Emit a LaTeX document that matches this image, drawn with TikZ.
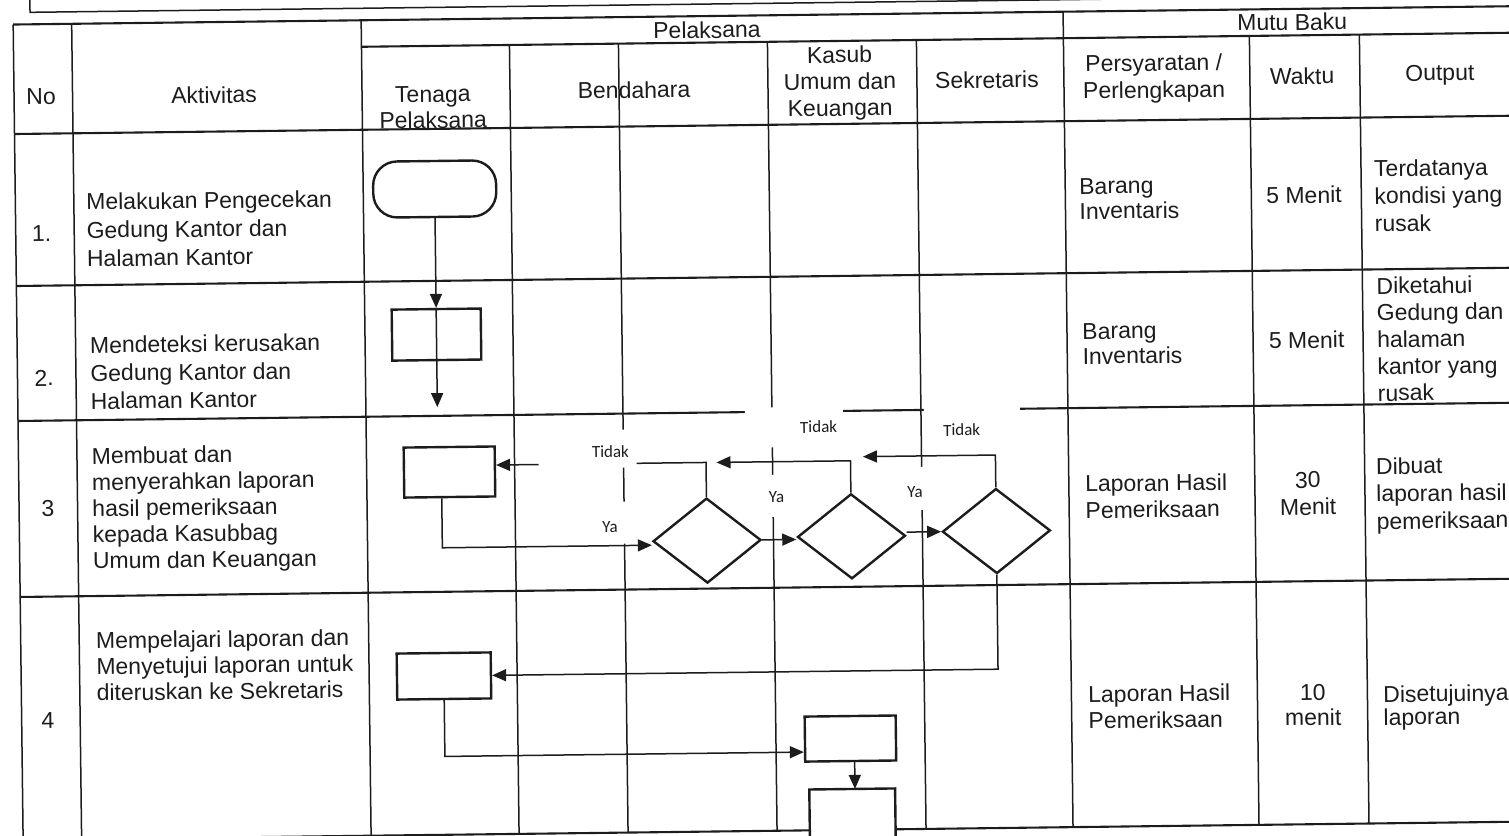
\documentclass[tikz,border=0pt]{standalone}
\usepackage{fontspec}
\setmainfont{Liberation Sans}
\newfontfamily\lblfont{Carlito}
\usetikzlibrary{arrows.meta,shapes.geometric}
\definecolor{ink}{RGB}{28,28,28}
\begin{document}
\begin{tikzpicture}[x=0.5pt, y=-0.5pt,
  hline/.style={draw=ink, line width=1.05pt},
  vline/.style={draw=ink, line width=0.75pt},
  shp/.style={draw=ink, line width=1.2pt, fill=white, inner sep=0pt},
  conn/.style={draw=ink, line width=0.75pt, -{Triangle[length=7pt,width=6pt]}},
  mask/.style={fill=white},
  txt/.style={font=\fontsize{11.5pt}{13.5pt}\selectfont, text=ink, inner sep=0pt},
  lt/.style={txt, align=left, anchor=west},
  ct/.style={txt, align=center},
  lbl/.style={font=\lblfont\fontsize{8.5pt}{10pt}\selectfont, text=ink, inner sep=0pt}]
\useasboundingbox (0,0) rectangle (1509,835);
\clip (0,0) rectangle (1509,835);
\begin{scope}[rotate around={0.7:(754,417)}, transform shape]
% top box edge
\draw[vline] (35,-30) -- (35,3.5) -- (1560,3.5);
% table horizontal lines
\draw[hline] (18,15.5) -- (1560,15.5);
\draw[hline] (366,42) -- (1560,42);
\foreach \yy in {125,277,412,588,831} \draw[hline] (18,\yy) -- (1560,\yy);
% table vertical lines
\foreach \xx in {18,76.5,366,1068} \draw[vline] (\xx,15.5) -- (\xx,831);
\foreach \xx in {514,623,772,921,1254,1364} \draw[vline] (\xx,42) -- (\xx,831);

% header texts
\node[ct] (hno) at (45,88.3) {No};
\node[ct] (hakt) at (218,88.4) {Aktivitas};
\node[ct] (hpel) at (711.7,29.4) {Pelaksana};
\node[ct, font=\fontsize{11.5pt}{13pt}\selectfont] (hten) at (436.8,103.5) {Tenaga\\Pelaksana};
\node[ct] (hben) at (638,88.5) {Bendahara};
\node[ct, font=\fontsize{11.5pt}{13.25pt}\selectfont] (hkas) at (844,84.5) {Kasub\\Umum dan\\Keuangan};
\node[ct] (hsek) at (991,82.8) {Sekretaris};
\node[ct] (hmut) at (1297,28.6) {Mutu Baku};
\node[ct] (hper) at (1158,83.4) {Persyaratan /\\Perlengkapan};
\node[ct] (hwak) at (1306.2,82.7) {Waktu};
\node[ct] (hout) at (1444,83.4) {Output};

% row 1
\node[ct] (n1) at (43.9,224.8) {1.};
\node[lt, font=\fontsize{11.5pt}{14.2pt}\selectfont] (a1) at (88.6,222) {Melakukan Pengecekan\\Gedung Kantor dan\\Halaman Kantor};
\node[lt, font=\fontsize{11.5pt}{12.5pt}\selectfont] (p1) at (1081.7,203) {Barang\\Inventaris};
\node[ct] (w1) at (1306.7,201.7) {5 Menit};
\node[lt, font=\fontsize{11.5pt}{13.75pt}\selectfont] (o1) at (1376.7,203.5) {Terdatanya\\kondisi yang\\rusak};
% row 2
\node[ct] (n2) at (44.5,369.3) {2.};
\node[lt, font=\fontsize{11.5pt}{14pt}\selectfont] (a2) at (90.6,365) {Mendeteksi kerusakan\\Gedung Kantor dan\\Halaman Kantor};
\node[lt, font=\fontsize{11.5pt}{12.5pt}\selectfont] (p2) at (1083,348) {Barang\\Inventaris};
\node[ct] (w2) at (1307.6,346.7) {5 Menit};
\node[lt, font=\fontsize{11.5pt}{13.4pt}\selectfont] (o2) at (1377.7,347) {Diketahui\\Gedung dan\\halaman\\kantor yang\\rusak};
% row 3
\node[ct] (n3) at (46.9,499.4) {3};
\node[lt, font=\fontsize{11.5pt}{13.1pt}\selectfont] (a3) at (90.9,502.5) {Membuat dan\\menyerahkan laporan\\hasil pemeriksaan\\kepada Kasubbag\\Umum dan Keuangan};
\node[lt, font=\fontsize{11.5pt}{13.25pt}\selectfont] (p3) at (1084,501) {Laporan Hasil\\Pemeriksaan};
\node[ct] (w3) at (1307,500.3) {30\\Menit};
\node[lt, font=\fontsize{11.5pt}{13.75pt}\selectfont] (o3) at (1375,503.5) {Dibuat\\laporan hasil\\pemeriksaan};
% row 4
\node[ct] (n4) at (44.3,711.4) {4};
\node[lt, font=\fontsize{11.5pt}{13pt}\selectfont] (a4) at (93,658.5) {Mempelajari laporan dan\\Menyetujui laporan untuk\\diteruskan ke Sekretaris};
\node[lt, font=\fontsize{11.5pt}{13.25pt}\selectfont] (p4) at (1084.5,711.5) {Laporan Hasil\\Pemeriksaan};
\node[ct, font=\fontsize{11.5pt}{12.5pt}\selectfont] (w4) at (1309.5,711.7) {10\\menit};
\node[lt, font=\fontsize{11.5pt}{11.5pt}\selectfont] (o4) at (1379.5,715.5) {Disetujuinya\\laporan};

% flowchart shapes
\node[shp, rounded corners=12pt, minimum width=61.5pt, minimum height=28pt] (term) at (437.5,185.1) {};
\node[shp, minimum width=44.5pt, minimum height=25.5pt] (r1) at (437.5,330.7) {};
\node[shp, minimum width=45.5pt, minimum height=25pt] (r2) at (448.8,468.3) {};
\node[shp, diamond, minimum width=54pt, minimum height=42.5pt] (d1) at (705.5,540) {};
\node[shp, diamond, minimum width=54pt, minimum height=42.5pt] (d2) at (850,537.5) {};
\node[shp, diamond, minimum width=54pt, minimum height=42.5pt] (d3) at (995,534) {};
\node[shp, minimum width=47pt, minimum height=23pt] (r3) at (440.8,672.2) {};
\node[shp, minimum width=45.5pt, minimum height=22.5pt] (r4) at (846.5,739.7) {};
\node[draw=none, inner sep=0pt, minimum width=42.5pt, minimum height=26pt, anchor=north] (r5) at (847.7,790.2) {};
\draw[shp] (r5.north east) -- (r5.north west) -- ([yshift=4pt]r5.south west)
  .. controls (r5.south west) .. ([xshift=4pt]r5.south west)
  -- ([xshift=-4pt]r5.south east)
  .. controls (r5.south east) .. ([yshift=4pt]r5.south east) -- cycle;

% junction points on the Tidak lines
\coordinate (j1) at (716,462);
\coordinate (j2) at (862.5,458);
\coordinate (e2) at (437.5,403.3);

% connectors
\draw[conn] (term.south) -- (r1.north);
\draw[conn] (r1.north) -- (e2);
\draw[conn] ([xshift=-4pt]r2.south) |- ([yshift=-2pt]d1.west);
\draw[conn] (d1.north) |- ([yshift=3.2pt]r2.east);
\draw[conn] (d2.north) |- (j1);
\draw[conn] (d3.north) |- (j2);
\draw[conn] (d1.east) -- (d1.east -| d2.west);
\draw[conn] (d2.east |- d3.west) -- (d3.west);
\draw[conn] (d3.south) |- (r3.east);
\draw[conn] (r3.south) |- ([yshift=-6.5pt]r4.west);
\draw[conn] ([xshift=2pt]r4.south) -- ([xshift=2pt]r4.south |- r5.north);

% label boxes (white text boxes over the lines)
\fill[mask] (538,428) rectangle (636,466);
\fill[mask] (589,500) rectangle (631,542);
\fill[mask] (745,407.5) rectangle (843,447.5);
\fill[mask] (759,475) rectangle (794,517);
\fill[mask] (924,404.5) rectangle (1020,454.5);
\fill[mask] (899,469) rectangle (934,512);
\node[lbl] (t1) at (610,450) {Tidak};
\node[lbl] (t2) at (818.5,427.8) {Tidak};
\node[lbl] (t3) at (961.5,432.5) {Tidak};
\node[lbl] (y1) at (608.7,525.2) {Ya};
\node[lbl] (y2) at (775.5,497.3) {Ya};
\node[lbl] (y3) at (914,494) {Ya};
\end{scope}
\end{tikzpicture}
\end{document}
